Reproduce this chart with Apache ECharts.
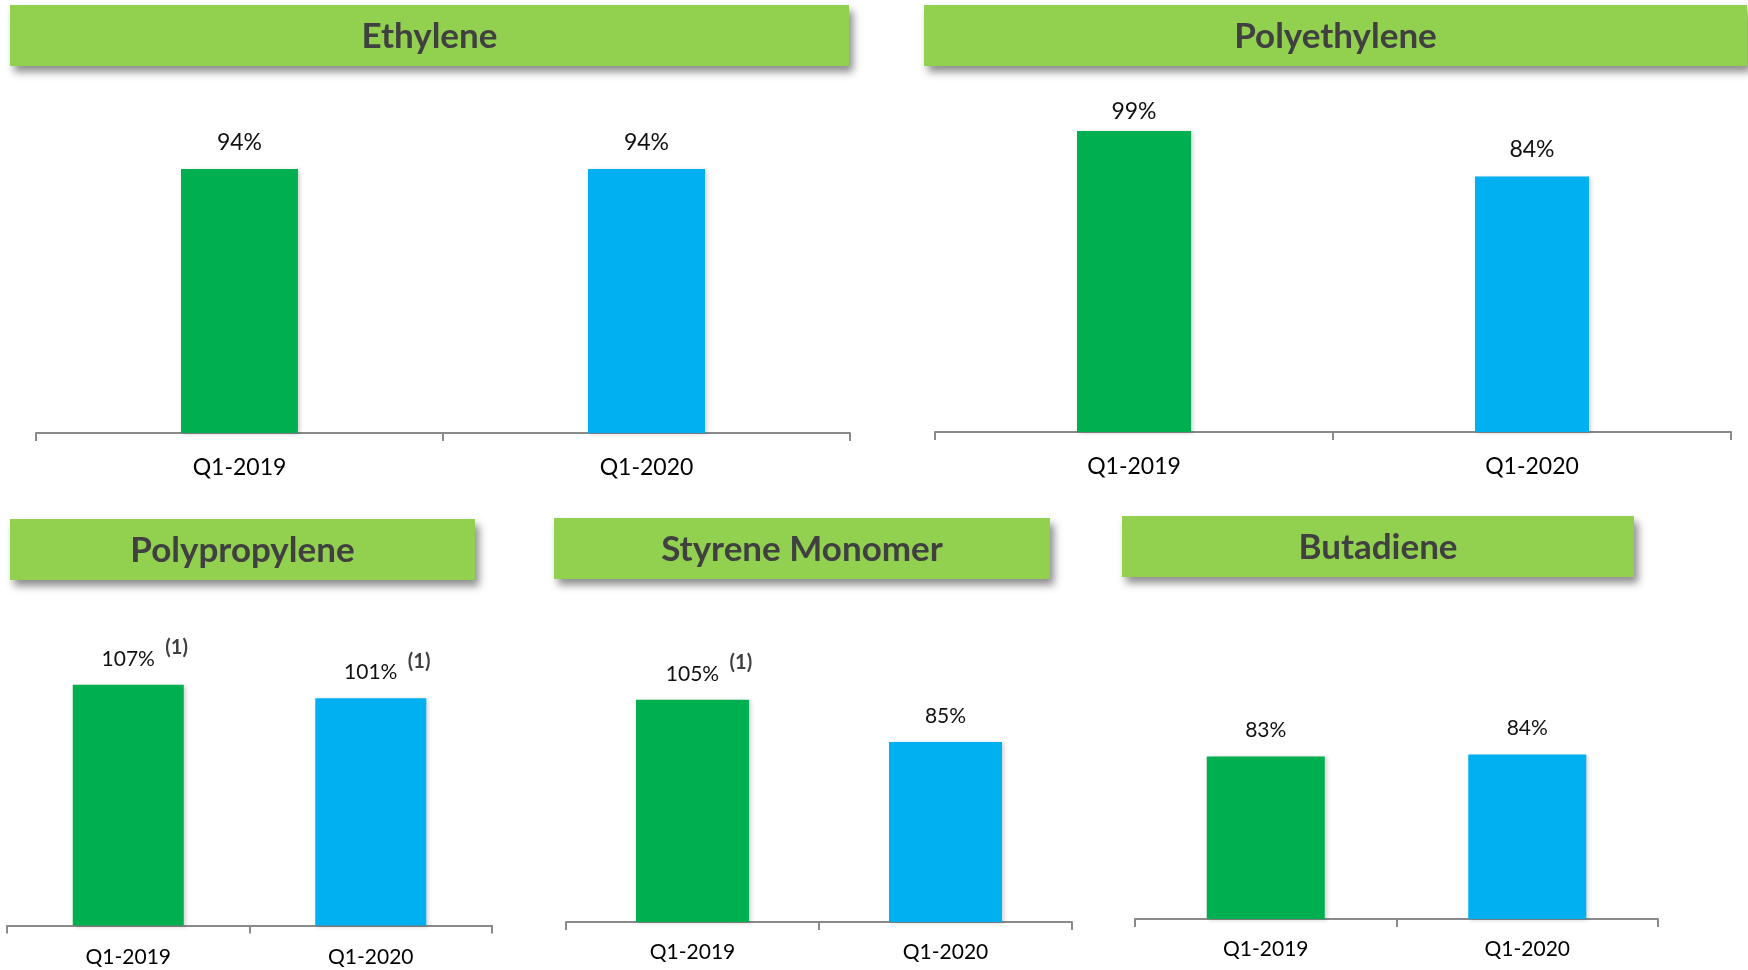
<!DOCTYPE html>
<html>
<head>
<meta charset="utf-8">
<script src="https://cdn.jsdelivr.net/npm/echarts@6/dist/echarts.min.js"></script>
<style>
  html, body { margin: 0; padding: 0; background: #ffffff; }
  #chart { width: 1748px; height: 970px; }
</style>
</head>
<body>
<div id="chart"></div>
<script>
// ---- Data ----
const products = ['Ethylene', 'Polyethylene', 'Polypropylene', 'Styrene Monomer', 'Butadiene'];
const categories = ['Q1-2019', 'Q1-2020'];
const q1_2019 = [94, 99, 107, 105, 83];
const q1_2020 = [94, 84, 101, 85, 84];
const footnote_2019 = ['', '', '(1)', '(1)', ''];
const footnote_2020 = ['', '', '(1)', '', ''];

// ---- Layout / style (not data) ----
const barColors = ['#00B050', '#00B0F0'];
const layout = [
  { title: [10, 5, 839, 61],    grid: { left: 36,   top: 96,    width: 814, height: 337 }, barWidth: 117, font: 23, margin: 23, dist: [5, 5] },
  { title: [924, 5, 823, 61],   grid: { left: 935,  top: 67,    width: 796, height: 365 }, barWidth: 114, font: 23, margin: 23, dist: [-2, 6] },
  { title: [10, 519, 465, 61],  grid: { left: 7,    top: 655.5, width: 485, height: 270 }, barWidth: 111, font: 21, margin: 21, dist: [5, 5] },
  { title: [554, 518, 496, 61], grid: { left: 566,  top: 668,   width: 506, height: 254 }, barWidth: 113, font: 21, margin: 20, dist: [5, 5] },
  { title: [1122, 516, 512, 61],grid: { left: 1135, top: 684,   width: 523, height: 235 }, barWidth: 118, font: 21, margin: 20, dist: [5, 5] }
];
const FONT = 'Lato, "Open Sans", sans-serif';

const grids = [], xAxes = [], yAxes = [], series = [], graphics = [];

products.forEach((name, i) => {
  const L = layout[i];
  grids.push(Object.assign({ containLabel: false }, L.grid));
  xAxes.push({
    type: 'category', gridIndex: i, data: categories, boundaryGap: true,
    axisLine: { show: true, lineStyle: { color: '#8A8A8A', width: 2 } },
    axisTick: { show: true, alignWithLabel: false, length: 8, lineStyle: { color: '#8A8A8A', width: 2 } },
    axisLabel: { color: '#000000', fontFamily: FONT, fontSize: L.font, margin: L.margin }
  });
  yAxes.push({ type: 'value', gridIndex: i, min: 0, max: 120, show: false, splitLine: { show: false } });

  const vals = [q1_2019[i], q1_2020[i]];
  const notes = [footnote_2019[i], footnote_2020[i]];
  series.push({
    type: 'bar', xAxisIndex: i, yAxisIndex: i, barWidth: L.barWidth,
    data: vals.map((v, j) => ({
      value: v,
      itemStyle: { color: barColors[j] },
      label: { distance: L.dist[j] }
    })),
    itemStyle: { shadowBlur: 4, shadowOffsetX: 2, shadowOffsetY: 1, shadowColor: 'rgba(0,0,0,0.18)' },
    label: {
      show: true, position: 'top',
      formatter: p => {
        const n = notes[p.dataIndex];
        return n ? '{pad| }{v|' + p.value + '%}{sup|' + n + '}' : '{v|' + p.value + '%}';
      },
      rich: {
        v: { fontFamily: FONT, fontSize: L.font, color: '#111111', lineHeight: 42 },
        pad: { width: 33, lineHeight: 42 },
        sup: { fontFamily: FONT, fontSize: 20, fontWeight: 'bold', color: '#404040', lineHeight: 20, verticalAlign: 'top', width: 33, align: 'right' }
      }
    }
  });

  const t = L.title;
  graphics.push({
    type: 'rect', z: 10,
    shape: { x: t[0], y: t[1], width: t[2], height: t[3] },
    style: { fill: '#92D050', shadowBlur: 8, shadowOffsetX: 4, shadowOffsetY: 6, shadowColor: 'rgba(0,0,0,0.45)' }
  });
  graphics.push({
    type: 'text', z: 11,
    x: t[0] + t[2] / 2, y: t[1] + t[3] / 2 + 1,
    style: {
      text: name, font: 'bold 35px ' + FONT, fill: '#404040',
      textAlign: 'center', textVerticalAlign: 'middle', align: 'center', verticalAlign: 'middle'
    }
  });
});

const chart = echarts.init(document.getElementById('chart'), null, { renderer: 'canvas' });
chart.setOption({
  animation: false,
  backgroundColor: '#ffffff',
  grid: grids, xAxis: xAxes, yAxis: yAxes, series: series,
  graphic: { elements: graphics }
});
</script>
</body>
</html>
